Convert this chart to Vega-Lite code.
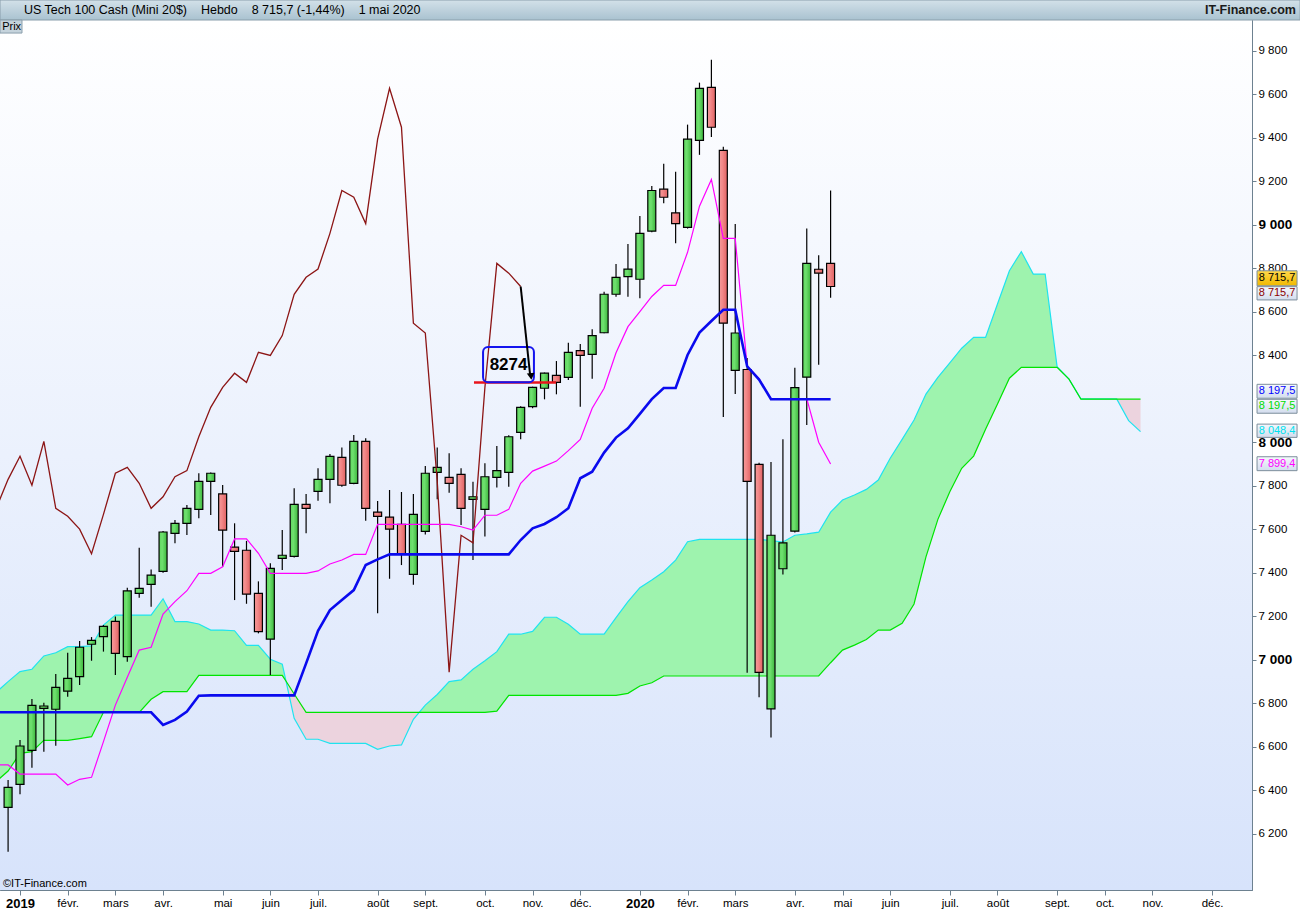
{
  "$schema": "https://vega.github.io/schema/vega-lite/v6.json",
  "width": 1252,
  "height": 870,
  "autosize": {"type": "none"},
  "padding": {"left": 0, "top": 20, "right": 48, "bottom": 20},
  "background": "#ffffff",
  "config": {
    "font": "Liberation Sans",
    "view": {"stroke": "#6d8190", "strokeWidth": 1},
    "axis": {"grid": false}
  },
  "datasets": {
    "k": [
      {"d": "2018-12-31", "o": 6321, "h": 6447, "l": 6117, "c": 6413},
      {"d": "2019-01-07", "o": 6427, "h": 6631, "l": 6381, "c": 6603},
      {"d": "2019-01-14", "o": 6583, "h": 6819, "l": 6503, "c": 6790},
      {"d": "2019-01-21", "o": 6776, "h": 6802, "l": 6577, "c": 6787},
      {"d": "2019-01-28", "o": 6772, "h": 6934, "l": 6604, "c": 6873},
      {"d": "2019-02-04", "o": 6855, "h": 7032, "l": 6830, "c": 6914},
      {"d": "2019-02-11", "o": 6922, "h": 7086, "l": 6884, "c": 7057},
      {"d": "2019-02-18", "o": 7071, "h": 7104, "l": 6995, "c": 7089},
      {"d": "2019-02-25", "o": 7106, "h": 7159, "l": 7037, "c": 7153},
      {"d": "2019-03-04", "o": 7176, "h": 7198, "l": 6929, "c": 7029},
      {"d": "2019-03-11", "o": 7014, "h": 7331, "l": 6991, "c": 7316},
      {"d": "2019-03-18", "o": 7305, "h": 7515, "l": 7285, "c": 7328},
      {"d": "2019-03-25", "o": 7346, "h": 7415, "l": 7243, "c": 7389},
      {"d": "2019-04-01", "o": 7406, "h": 7592, "l": 7400, "c": 7587},
      {"d": "2019-04-08", "o": 7581, "h": 7642, "l": 7535, "c": 7627},
      {"d": "2019-04-15", "o": 7627, "h": 7711, "l": 7573, "c": 7696},
      {"d": "2019-04-22", "o": 7691, "h": 7857, "l": 7650, "c": 7820},
      {"d": "2019-04-29", "o": 7820, "h": 7860, "l": 7665, "c": 7857},
      {"d": "2019-05-06", "o": 7762, "h": 7803, "l": 7427, "c": 7596},
      {"d": "2019-05-13", "o": 7517, "h": 7627, "l": 7274, "c": 7498},
      {"d": "2019-05-20", "o": 7503, "h": 7546, "l": 7257, "c": 7301},
      {"d": "2019-05-27", "o": 7305, "h": 7360, "l": 7121, "c": 7129},
      {"d": "2019-06-03", "o": 7094, "h": 7443, "l": 6929, "c": 7420},
      {"d": "2019-06-10", "o": 7466, "h": 7596, "l": 7412, "c": 7480},
      {"d": "2019-06-17", "o": 7475, "h": 7788, "l": 7470, "c": 7714},
      {"d": "2019-06-24", "o": 7714, "h": 7762, "l": 7581, "c": 7696},
      {"d": "2019-07-01", "o": 7774, "h": 7880, "l": 7731, "c": 7829},
      {"d": "2019-07-08", "o": 7829, "h": 7946, "l": 7719, "c": 7935},
      {"d": "2019-07-15", "o": 7930, "h": 7976, "l": 7795, "c": 7802},
      {"d": "2019-07-22", "o": 7811, "h": 8033, "l": 7806, "c": 8004},
      {"d": "2019-07-29", "o": 8004, "h": 8018, "l": 7639, "c": 7696},
      {"d": "2019-08-05", "o": 7678, "h": 7730, "l": 7213, "c": 7659},
      {"d": "2019-08-12", "o": 7655, "h": 7780, "l": 7372, "c": 7600},
      {"d": "2019-08-19", "o": 7622, "h": 7771, "l": 7435, "c": 7487},
      {"d": "2019-08-26", "o": 7392, "h": 7762, "l": 7345, "c": 7668},
      {"d": "2019-09-02", "o": 7590, "h": 7890, "l": 7575, "c": 7857},
      {"d": "2019-09-09", "o": 7861, "h": 7976, "l": 7737, "c": 7884},
      {"d": "2019-09-16", "o": 7838, "h": 7949, "l": 7768, "c": 7811},
      {"d": "2019-09-23", "o": 7852, "h": 7880, "l": 7619, "c": 7696},
      {"d": "2019-09-30", "o": 7737, "h": 7818, "l": 7458, "c": 7749},
      {"d": "2019-10-07", "o": 7691, "h": 7903, "l": 7566, "c": 7841},
      {"d": "2019-10-14", "o": 7838, "h": 7982, "l": 7792, "c": 7869},
      {"d": "2019-10-21", "o": 7861, "h": 8032, "l": 7795, "c": 8025},
      {"d": "2019-10-28", "o": 8045, "h": 8165, "l": 8013, "c": 8160},
      {"d": "2019-11-04", "o": 8163, "h": 8255, "l": 8156, "c": 8252},
      {"d": "2019-11-11", "o": 8248, "h": 8320, "l": 8197, "c": 8317},
      {"d": "2019-11-18", "o": 8307, "h": 8373, "l": 8220, "c": 8275},
      {"d": "2019-11-25", "o": 8298, "h": 8457, "l": 8286, "c": 8413},
      {"d": "2019-12-02", "o": 8421, "h": 8451, "l": 8163, "c": 8399},
      {"d": "2019-12-09", "o": 8404, "h": 8519, "l": 8292, "c": 8490},
      {"d": "2019-12-16", "o": 8503, "h": 8692, "l": 8501, "c": 8680},
      {"d": "2019-12-23", "o": 8680, "h": 8819, "l": 8669, "c": 8758},
      {"d": "2019-12-30", "o": 8761, "h": 8911, "l": 8669, "c": 8796},
      {"d": "2020-01-06", "o": 8749, "h": 9040, "l": 8662, "c": 8960},
      {"d": "2020-01-13", "o": 8970, "h": 9178, "l": 8965, "c": 9157},
      {"d": "2020-01-20", "o": 9163, "h": 9280, "l": 9099, "c": 9126},
      {"d": "2020-01-27", "o": 9054, "h": 9243, "l": 8914, "c": 9005},
      {"d": "2020-02-03", "o": 8988, "h": 9460, "l": 8982, "c": 9393},
      {"d": "2020-02-10", "o": 9388, "h": 9653, "l": 9321, "c": 9627},
      {"d": "2020-02-17", "o": 9631, "h": 9758, "l": 9403, "c": 9448},
      {"d": "2020-02-24", "o": 9342, "h": 9358, "l": 8116, "c": 8547},
      {"d": "2020-03-02", "o": 8330, "h": 9003, "l": 8222, "c": 8502},
      {"d": "2020-03-09", "o": 8334, "h": 8387, "l": 6940, "c": 7820},
      {"d": "2020-03-16", "o": 7898, "h": 7905, "l": 6827, "c": 6942},
      {"d": "2020-03-23", "o": 6774, "h": 7909, "l": 6642, "c": 7572},
      {"d": "2020-03-30", "o": 7418, "h": 8013, "l": 7392, "c": 7537},
      {"d": "2020-04-06", "o": 7591, "h": 8342, "l": 7585, "c": 8251},
      {"d": "2020-04-13", "o": 8299, "h": 8982, "l": 8079, "c": 8822},
      {"d": "2020-04-20", "o": 8795, "h": 8859, "l": 8356, "c": 8777},
      {"d": "2020-04-27", "o": 8822, "h": 9157, "l": 8664, "c": 8715.7}
    ],
    "ich": [
      {"d": "2018-12-24", "t": 6516, "k": 6758, "ch": 7696},
      {"d": "2018-12-31", "t": 6516, "k": 6758, "ch": 7829},
      {"d": "2019-01-07", "t": 6474, "k": 6758, "ch": 7935},
      {"d": "2019-01-14", "t": 6474, "k": 6758, "ch": 7802},
      {"d": "2019-01-21", "t": 6474, "k": 6758, "ch": 8004},
      {"d": "2019-01-28", "t": 6474, "k": 6758, "ch": 7696},
      {"d": "2019-02-04", "t": 6424, "k": 6758, "ch": 7659},
      {"d": "2019-02-11", "t": 6450, "k": 6758, "ch": 7600},
      {"d": "2019-02-18", "t": 6459, "k": 6758, "ch": 7487},
      {"d": "2019-02-25", "t": 6623, "k": 6758, "ch": 7668},
      {"d": "2019-03-04", "t": 6791, "k": 6758, "ch": 7857},
      {"d": "2019-03-11", "t": 6919, "k": 6758, "ch": 7884},
      {"d": "2019-03-18", "t": 7044, "k": 6758, "ch": 7811},
      {"d": "2019-03-25", "t": 7057, "k": 6758, "ch": 7696},
      {"d": "2019-04-01", "t": 7210, "k": 6700, "ch": 7749},
      {"d": "2019-04-08", "t": 7267, "k": 6723, "ch": 7841},
      {"d": "2019-04-15", "t": 7317, "k": 6761, "ch": 7869},
      {"d": "2019-04-22", "t": 7397, "k": 6834, "ch": 8025},
      {"d": "2019-04-29", "t": 7397, "k": 6836, "ch": 8160},
      {"d": "2019-05-06", "t": 7427, "k": 6836, "ch": 8252},
      {"d": "2019-05-13", "t": 7555, "k": 6836, "ch": 8317},
      {"d": "2019-05-20", "t": 7555, "k": 6836, "ch": 8275},
      {"d": "2019-05-27", "t": 7489, "k": 6836, "ch": 8413},
      {"d": "2019-06-03", "t": 7397, "k": 6836, "ch": 8399},
      {"d": "2019-06-10", "t": 7397, "k": 6836, "ch": 8490},
      {"d": "2019-06-17", "t": 7397, "k": 6836, "ch": 8680},
      {"d": "2019-06-24", "t": 7397, "k": 6983, "ch": 8758},
      {"d": "2019-07-01", "t": 7408, "k": 7133, "ch": 8796},
      {"d": "2019-07-08", "t": 7440, "k": 7228, "ch": 8960},
      {"d": "2019-07-15", "t": 7458, "k": 7274, "ch": 9157},
      {"d": "2019-07-22", "t": 7484, "k": 7320, "ch": 9126},
      {"d": "2019-07-29", "t": 7484, "k": 7435, "ch": 9005},
      {"d": "2019-08-05", "t": 7622, "k": 7461, "ch": 9393},
      {"d": "2019-08-12", "t": 7622, "k": 7484, "ch": 9627},
      {"d": "2019-08-19", "t": 7622, "k": 7484, "ch": 9448},
      {"d": "2019-08-26", "t": 7622, "k": 7484, "ch": 8547},
      {"d": "2019-09-02", "t": 7622, "k": 7484, "ch": 8502},
      {"d": "2019-09-09", "t": 7622, "k": 7484, "ch": 7820},
      {"d": "2019-09-16", "t": 7622, "k": 7484, "ch": 6942},
      {"d": "2019-09-23", "t": 7611, "k": 7484, "ch": 7572},
      {"d": "2019-09-30", "t": 7596, "k": 7484, "ch": 7537},
      {"d": "2019-10-07", "t": 7664, "k": 7484, "ch": 8251},
      {"d": "2019-10-14", "t": 7664, "k": 7484, "ch": 8822},
      {"d": "2019-10-21", "t": 7691, "k": 7484, "ch": 8777},
      {"d": "2019-10-28", "t": 7811, "k": 7550, "ch": 8715.7},
      {"d": "2019-11-04", "t": 7867, "k": 7604},
      {"d": "2019-11-11", "t": 7890, "k": 7624},
      {"d": "2019-11-18", "t": 7913, "k": 7655},
      {"d": "2019-11-25", "t": 7961, "k": 7696},
      {"d": "2019-12-02", "t": 8013, "k": 7834},
      {"d": "2019-12-09", "t": 8156, "k": 7864},
      {"d": "2019-12-16", "t": 8248, "k": 7952},
      {"d": "2019-12-23", "t": 8411, "k": 8021},
      {"d": "2019-12-30", "t": 8531, "k": 8064},
      {"d": "2020-01-06", "t": 8600, "k": 8130},
      {"d": "2020-01-13", "t": 8670, "k": 8198},
      {"d": "2020-01-20", "t": 8721, "k": 8249},
      {"d": "2020-01-27", "t": 8721, "k": 8249},
      {"d": "2020-02-03", "t": 8873, "k": 8401},
      {"d": "2020-02-10", "t": 9085, "k": 8504},
      {"d": "2020-02-17", "t": 9208, "k": 8557},
      {"d": "2020-02-24", "t": 8937, "k": 8609},
      {"d": "2020-03-02", "t": 8937, "k": 8609},
      {"d": "2020-03-09", "t": 8349, "k": 8349},
      {"d": "2020-03-16", "t": 8292, "k": 8288},
      {"d": "2020-03-23", "t": 8200, "k": 8197.5},
      {"d": "2020-03-30", "t": 8200, "k": 8197.5},
      {"d": "2020-04-06", "t": 8200, "k": 8197.5},
      {"d": "2020-04-13", "t": 8200, "k": 8197.5},
      {"d": "2020-04-20", "t": 8000, "k": 8197.5},
      {"d": "2020-04-27", "t": 7899.4, "k": 8197.5}
    ],
    "cl": [
      {"d": "2018-12-24", "a": 6850, "b": 6440, "seg": 1, "trend": "haussier"},
      {"d": "2018-12-31", "a": 6899, "b": 6488, "seg": 1, "trend": "haussier"},
      {"d": "2019-01-07", "a": 6945, "b": 6569, "seg": 1, "trend": "haussier"},
      {"d": "2019-01-14", "a": 6956, "b": 6577, "seg": 1, "trend": "haussier"},
      {"d": "2019-01-21", "a": 7017, "b": 6629, "seg": 1, "trend": "haussier"},
      {"d": "2019-01-28", "a": 7032, "b": 6629, "seg": 1, "trend": "haussier"},
      {"d": "2019-02-04", "a": 7060, "b": 6629, "seg": 1, "trend": "haussier"},
      {"d": "2019-02-11", "a": 7060, "b": 6637, "seg": 1, "trend": "haussier"},
      {"d": "2019-02-18", "a": 7063, "b": 6646, "seg": 1, "trend": "haussier"},
      {"d": "2019-02-25", "a": 7159, "b": 6758, "seg": 1, "trend": "haussier"},
      {"d": "2019-03-04", "a": 7205, "b": 6758, "seg": 1, "trend": "haussier"},
      {"d": "2019-03-11", "a": 7205, "b": 6758, "seg": 1, "trend": "haussier"},
      {"d": "2019-03-18", "a": 7205, "b": 6758, "seg": 1, "trend": "haussier"},
      {"d": "2019-03-25", "a": 7205, "b": 6818, "seg": 1, "trend": "haussier"},
      {"d": "2019-04-01", "a": 7280, "b": 6853, "seg": 1, "trend": "haussier"},
      {"d": "2019-04-08", "a": 7175, "b": 6853, "seg": 1, "trend": "haussier"},
      {"d": "2019-04-15", "a": 7175, "b": 6853, "seg": 1, "trend": "haussier"},
      {"d": "2019-04-22", "a": 7164, "b": 6928, "seg": 1, "trend": "haussier"},
      {"d": "2019-04-29", "a": 7136, "b": 6928, "seg": 1, "trend": "haussier"},
      {"d": "2019-05-06", "a": 7136, "b": 6928, "seg": 1, "trend": "haussier"},
      {"d": "2019-05-13", "a": 7133, "b": 6928, "seg": 1, "trend": "haussier"},
      {"d": "2019-05-20", "a": 7066, "b": 6928, "seg": 1, "trend": "haussier"},
      {"d": "2019-05-27", "a": 7066, "b": 6928, "seg": 1, "trend": "haussier"},
      {"d": "2019-06-03", "a": 7002, "b": 6928, "seg": 1, "trend": "haussier"},
      {"d": "2019-06-10", "a": 6979, "b": 6928, "seg": 1, "trend": "haussier"},
      {"d": "2019-06-12T04:00:00Z", "a": 6902, "b": 6902, "seg": 1, "trend": "haussier"},
      {"d": "2019-06-12T04:00:00Z", "a": 6902, "b": 6902, "seg": 2, "trend": "baissier"},
      {"d": "2019-06-17", "a": 6730, "b": 6842, "seg": 2, "trend": "baissier"},
      {"d": "2019-06-24", "a": 6634, "b": 6758, "seg": 2, "trend": "baissier"},
      {"d": "2019-07-01", "a": 6634, "b": 6758, "seg": 2, "trend": "baissier"},
      {"d": "2019-07-08", "a": 6615, "b": 6758, "seg": 2, "trend": "baissier"},
      {"d": "2019-07-15", "a": 6615, "b": 6758, "seg": 2, "trend": "baissier"},
      {"d": "2019-07-22", "a": 6615, "b": 6758, "seg": 2, "trend": "baissier"},
      {"d": "2019-07-29", "a": 6615, "b": 6758, "seg": 2, "trend": "baissier"},
      {"d": "2019-08-05", "a": 6588, "b": 6758, "seg": 2, "trend": "baissier"},
      {"d": "2019-08-12", "a": 6603, "b": 6758, "seg": 2, "trend": "baissier"},
      {"d": "2019-08-19", "a": 6608, "b": 6758, "seg": 2, "trend": "baissier"},
      {"d": "2019-08-26", "a": 6726, "b": 6758, "seg": 2, "trend": "baissier"},
      {"d": "2019-08-29T10:00:00Z", "a": 6758, "b": 6758, "seg": 2, "trend": "baissier"},
      {"d": "2019-08-29T10:00:00Z", "a": 6758, "b": 6758, "seg": 3, "trend": "haussier"},
      {"d": "2019-09-02", "a": 6791, "b": 6758, "seg": 3, "trend": "haussier"},
      {"d": "2019-09-09", "a": 6840, "b": 6758, "seg": 3, "trend": "haussier"},
      {"d": "2019-09-16", "a": 6899, "b": 6758, "seg": 3, "trend": "haussier"},
      {"d": "2019-09-23", "a": 6907, "b": 6758, "seg": 3, "trend": "haussier"},
      {"d": "2019-09-30", "a": 6956, "b": 6758, "seg": 3, "trend": "haussier"},
      {"d": "2019-10-07", "a": 6995, "b": 6758, "seg": 3, "trend": "haussier"},
      {"d": "2019-10-14", "a": 7037, "b": 6763, "seg": 3, "trend": "haussier"},
      {"d": "2019-10-21", "a": 7117, "b": 6836, "seg": 3, "trend": "haussier"},
      {"d": "2019-10-28", "a": 7117, "b": 6836, "seg": 3, "trend": "haussier"},
      {"d": "2019-11-04", "a": 7130, "b": 6836, "seg": 3, "trend": "haussier"},
      {"d": "2019-11-11", "a": 7195, "b": 6836, "seg": 3, "trend": "haussier"},
      {"d": "2019-11-18", "a": 7195, "b": 6836, "seg": 3, "trend": "haussier"},
      {"d": "2019-11-25", "a": 7163, "b": 6836, "seg": 3, "trend": "haussier"},
      {"d": "2019-12-02", "a": 7117, "b": 6836, "seg": 3, "trend": "haussier"},
      {"d": "2019-12-09", "a": 7117, "b": 6836, "seg": 3, "trend": "haussier"},
      {"d": "2019-12-16", "a": 7117, "b": 6836, "seg": 3, "trend": "haussier"},
      {"d": "2019-12-23", "a": 7193, "b": 6836, "seg": 3, "trend": "haussier"},
      {"d": "2019-12-30", "a": 7267, "b": 6845, "seg": 3, "trend": "haussier"},
      {"d": "2020-01-06", "a": 7331, "b": 6879, "seg": 3, "trend": "haussier"},
      {"d": "2020-01-13", "a": 7366, "b": 6894, "seg": 3, "trend": "haussier"},
      {"d": "2020-01-20", "a": 7404, "b": 6925, "seg": 3, "trend": "haussier"},
      {"d": "2020-01-27", "a": 7458, "b": 6925, "seg": 3, "trend": "haussier"},
      {"d": "2020-02-03", "a": 7542, "b": 6925, "seg": 3, "trend": "haussier"},
      {"d": "2020-02-10", "a": 7553, "b": 6925, "seg": 3, "trend": "haussier"},
      {"d": "2020-02-17", "a": 7553, "b": 6925, "seg": 3, "trend": "haussier"},
      {"d": "2020-02-24", "a": 7553, "b": 6925, "seg": 3, "trend": "haussier"},
      {"d": "2020-03-02", "a": 7553, "b": 6925, "seg": 3, "trend": "haussier"},
      {"d": "2020-03-09", "a": 7553, "b": 6925, "seg": 3, "trend": "haussier"},
      {"d": "2020-03-16", "a": 7553, "b": 6925, "seg": 3, "trend": "haussier"},
      {"d": "2020-03-23", "a": 7547, "b": 6925, "seg": 3, "trend": "haussier"},
      {"d": "2020-03-30", "a": 7541, "b": 6925, "seg": 3, "trend": "haussier"},
      {"d": "2020-04-06", "a": 7572, "b": 6925, "seg": 3, "trend": "haussier"},
      {"d": "2020-04-13", "a": 7578, "b": 6925, "seg": 3, "trend": "haussier"},
      {"d": "2020-04-20", "a": 7586, "b": 6925, "seg": 3, "trend": "haussier"},
      {"d": "2020-04-27", "a": 7678, "b": 6986, "seg": 3, "trend": "haussier"},
      {"d": "2020-05-04", "a": 7734, "b": 7044, "seg": 3, "trend": "haussier"},
      {"d": "2020-05-11", "a": 7757, "b": 7067, "seg": 3, "trend": "haussier"},
      {"d": "2020-05-18", "a": 7783, "b": 7093, "seg": 3, "trend": "haussier"},
      {"d": "2020-05-25", "a": 7826, "b": 7136, "seg": 3, "trend": "haussier"},
      {"d": "2020-06-01", "a": 7926, "b": 7136, "seg": 3, "trend": "haussier"},
      {"d": "2020-06-08", "a": 8013, "b": 7167, "seg": 3, "trend": "haussier"},
      {"d": "2020-06-15", "a": 8102, "b": 7256, "seg": 3, "trend": "haussier"},
      {"d": "2020-06-22", "a": 8221, "b": 7473, "seg": 3, "trend": "haussier"},
      {"d": "2020-06-29", "a": 8298, "b": 7645, "seg": 3, "trend": "haussier"},
      {"d": "2020-07-06", "a": 8365, "b": 7772, "seg": 3, "trend": "haussier"},
      {"d": "2020-07-13", "a": 8432, "b": 7880, "seg": 3, "trend": "haussier"},
      {"d": "2020-07-20", "a": 8482, "b": 7936, "seg": 3, "trend": "haussier"},
      {"d": "2020-07-27", "a": 8482, "b": 8059, "seg": 3, "trend": "haussier"},
      {"d": "2020-08-03", "a": 8635, "b": 8176, "seg": 3, "trend": "haussier"},
      {"d": "2020-08-10", "a": 8788, "b": 8294, "seg": 3, "trend": "haussier"},
      {"d": "2020-08-17", "a": 8876, "b": 8344, "seg": 3, "trend": "haussier"},
      {"d": "2020-08-24", "a": 8773, "b": 8344, "seg": 3, "trend": "haussier"},
      {"d": "2020-08-31", "a": 8773, "b": 8344, "seg": 3, "trend": "haussier"},
      {"d": "2020-09-07", "a": 8347, "b": 8344, "seg": 3, "trend": "haussier"},
      {"d": "2020-09-14", "a": 8290, "b": 8290, "seg": 3, "trend": "haussier"},
      {"d": "2020-09-21", "a": 8199, "b": 8197.5, "seg": 3, "trend": "haussier"},
      {"d": "2020-09-28", "a": 8199, "b": 8197.5, "seg": 3, "trend": "haussier"},
      {"d": "2020-10-05", "a": 8199, "b": 8197.5, "seg": 3, "trend": "haussier"},
      {"d": "2020-10-12", "a": 8199, "b": 8197.5, "seg": 3, "trend": "haussier"},
      {"d": "2020-10-12", "a": 8199, "b": 8197.5, "seg": 4, "trend": "baissier"},
      {"d": "2020-10-19", "a": 8099, "b": 8197.5, "seg": 4, "trend": "baissier"},
      {"d": "2020-10-26", "a": 8048.4, "b": 8197.5, "seg": 4, "trend": "baissier"}
    ]
  },
  "encoding": {
    "x": {
      "field": "d",
      "type": "temporal",
      "title": null,
      "scale": {
        "type": "utc",
        "nice": false,
        "padding": 0,
        "domain": [
          {"year": 2018, "month": 12, "date": 26, "hours": 6, "utc": true},
          {"year": 2020, "month": 12, "date": 30, "hours": 11, "utc": true}
        ]
      },
      "axis": {
        "values": [
          {"year": 2019, "month": 1, "date": 7, "utc": true},
          {"year": 2019, "month": 2, "date": 4, "utc": true},
          {"year": 2019, "month": 3, "date": 4, "utc": true},
          {"year": 2019, "month": 4, "date": 1, "utc": true},
          {"year": 2019, "month": 5, "date": 6, "utc": true},
          {"year": 2019, "month": 6, "date": 3, "utc": true},
          {"year": 2019, "month": 7, "date": 1, "utc": true},
          {"year": 2019, "month": 8, "date": 5, "utc": true},
          {"year": 2019, "month": 9, "date": 2, "utc": true},
          {"year": 2019, "month": 10, "date": 7, "utc": true},
          {"year": 2019, "month": 11, "date": 4, "utc": true},
          {"year": 2019, "month": 12, "date": 2, "utc": true},
          {"year": 2020, "month": 1, "date": 6, "utc": true},
          {"year": 2020, "month": 2, "date": 3, "utc": true},
          {"year": 2020, "month": 3, "date": 2, "utc": true},
          {"year": 2020, "month": 4, "date": 6, "utc": true},
          {"year": 2020, "month": 5, "date": 4, "utc": true},
          {"year": 2020, "month": 6, "date": 1, "utc": true},
          {"year": 2020, "month": 7, "date": 6, "utc": true},
          {"year": 2020, "month": 8, "date": 3, "utc": true},
          {"year": 2020, "month": 9, "date": 7, "utc": true},
          {"year": 2020, "month": 10, "date": 5, "utc": true},
          {"year": 2020, "month": 11, "date": 2, "utc": true},
          {"year": 2020, "month": 12, "date": 7, "utc": true}
        ],
        "labelExpr": "utcmonth(datum.value) == 0 ? '' + utcyear(datum.value) : ['janv.', 'févr.', 'mars', 'avr.', 'mai', 'juin', 'juil.', 'août', 'sept.', 'oct.', 'nov.', 'déc.'][utcmonth(datum.value)]",
        "labelFontWeight": {"condition": {"test": "utcmonth(datum.value) == 0", "value": "bold"}, "value": "normal"},
        "labelFontSize": {"condition": {"test": "utcmonth(datum.value) == 0", "value": 13}, "value": 11.5},
        "labelColor": "#000000",
        "labelPadding": 2,
        "labelOverlap": false,
        "labelFlush": false,
        "labelBound": false,
        "tickSize": 5,
        "tickColor": "#6d8190",
        "domainColor": "#6d8190"
      }
    }
  },
  "layer": [
    {
      "data": {"values": [{"d": "2018-12-26T06:00:00Z", "d2": "2020-12-30T11:00:00Z", "v": 9941, "v2": 5941}]},
      "mark": {
        "type": "rect",
        "fill": {
          "gradient": "linear", "x1": 0, "y1": 0, "x2": 0, "y2": 1,
          "stops": [{"offset": 0, "color": "#ffffff"}, {"offset": 1, "color": "#d7e3fb"}]
        }
      },
      "encoding": {
        "x2": {"field": "d2"},
        "y": {
          "field": "v",
          "type": "quantitative",
          "title": null,
          "scale": {"domain": [5941, 9941], "nice": false, "zero": false},
          "axis": {
            "orient": "right",
            "values": [6200, 6400, 6600, 6800, 7000, 7200, 7400, 7600, 7800, 8000, 8400, 8600, 8800, 9000, 9200, 9400, 9600, 9800],
            "labelExpr": "replace(format(datum.value, ','), ',', ' ')",
            "labelFontWeight": {"condition": {"test": "datum.value % 1000 == 0", "value": "bold"}, "value": "normal"},
            "labelFontSize": {"condition": {"test": "datum.value % 1000 == 0", "value": 13.5}, "value": 11.5},
            "labelColor": "#000000",
            "labelPadding": 2,
            "labelOverlap": false,
            "labelBound": false,
            "labelFlush": false,
            "tickSize": 4,
            "tickColor": "#6d8190",
            "domainColor": "#6d8190"
          }
        },
        "y2": {"field": "v2"}
      }
    },
    {
      "data": {"name": "cl"},
      "mark": {"type": "area", "clip": true, "opacity": 1, "interpolate": "linear"},
      "encoding": {
        "y": {"field": "a", "type": "quantitative", "title": null, "stack": null},
        "y2": {"field": "b"},
        "color": {
          "field": "trend",
          "type": "nominal",
          "legend": null,
          "scale": {"domain": ["haussier", "baissier"], "range": ["#9ef3ae", "#ecd3de"]}
        },
        "detail": {"field": "seg", "type": "nominal"}
      }
    },
    {
      "data": {"name": "cl"},
      "mark": {"type": "line", "clip": true, "color": "#1fe3ef", "strokeWidth": 1.2},
      "encoding": {"y": {"field": "a", "type": "quantitative", "title": null}}
    },
    {
      "data": {"name": "cl"},
      "mark": {"type": "line", "clip": true, "color": "#00e400", "strokeWidth": 1.2},
      "encoding": {"y": {"field": "b", "type": "quantitative", "title": null}}
    },
    {
      "data": {"name": "k"},
      "mark": {"type": "rule", "color": "#000000", "strokeWidth": 1.2},
      "encoding": {
        "y": {"field": "l", "type": "quantitative", "title": null},
        "y2": {"field": "h"}
      }
    },
    {
      "data": {"name": "k"},
      "transform": [{"filter": "datum.c >= datum.o"}],
      "mark": {
        "type": "bar",
        "size": 8,
        "stroke": "#000000",
        "strokeWidth": 1.2,
        "fill": {
          "gradient": "linear", "x1": 0, "y1": 0, "x2": 1, "y2": 0,
          "stops": [{"offset": 0, "color": "#5fd85f"}, {"offset": 0.4, "color": "#6fe06f"}, {"offset": 1, "color": "#3cb63c"}]
        }
      },
      "encoding": {
        "y": {"field": "o", "type": "quantitative", "title": null},
        "y2": {"field": "c"}
      }
    },
    {
      "data": {"name": "k"},
      "transform": [{"filter": "datum.c < datum.o"}],
      "mark": {
        "type": "bar",
        "size": 8,
        "stroke": "#000000",
        "strokeWidth": 1.2,
        "fill": {
          "gradient": "linear", "x1": 0, "y1": 0, "x2": 1, "y2": 0,
          "stops": [{"offset": 0, "color": "#f49a9a"}, {"offset": 0.4, "color": "#f28888"}, {"offset": 1, "color": "#e06262"}]
        }
      },
      "encoding": {
        "y": {"field": "o", "type": "quantitative", "title": null},
        "y2": {"field": "c"}
      }
    },
    {
      "data": {"name": "ich"},
      "mark": {"type": "line", "clip": true, "color": "#8c1515", "strokeWidth": 1.3},
      "encoding": {"y": {"field": "ch", "type": "quantitative", "title": null}}
    },
    {
      "data": {"name": "ich"},
      "mark": {"type": "line", "clip": true, "color": "#ff00ff", "strokeWidth": 1.2},
      "encoding": {"y": {"field": "t", "type": "quantitative", "title": null}}
    },
    {
      "data": {"name": "ich"},
      "mark": {"type": "line", "clip": true, "color": "#0a0aee", "strokeWidth": 2.6},
      "encoding": {"y": {"field": "k", "type": "quantitative", "title": null}}
    },
    {
      "data": {"values": [{"d": "2019-09-30T14:00:00Z", "d2": "2019-11-17T18:00:00Z", "v": 8274}]},
      "mark": {"type": "rule", "color": "#e8141c", "strokeWidth": 2.5},
      "encoding": {
        "x2": {"field": "d2"},
        "y": {"field": "v", "type": "quantitative", "title": null}
      }
    },
    {
      "data": {"values": [{"d": "2019-10-05T22:00:00Z", "d2": "2019-11-04T19:00:00Z", "v": 8438, "v2": 8276}]},
      "mark": {"type": "rect", "fill": "transparent", "stroke": "#1414ee", "strokeWidth": 2, "cornerRadius": 5},
      "encoding": {
        "x2": {"field": "d2"},
        "y": {"field": "v", "type": "quantitative", "title": null},
        "y2": {"field": "v2"}
      }
    },
    {
      "data": {"values": [{"d": "2019-10-20T21:00:00Z", "v": 8355, "txt": "8274"}]},
      "mark": {"type": "text", "fontSize": 17, "fontWeight": "bold", "color": "#000000", "align": "center", "baseline": "middle"},
      "encoding": {
        "y": {"field": "v", "type": "quantitative", "title": null},
        "text": {"field": "txt"}
      }
    },
    {
      "data": {"values": [{"d": "2019-10-28", "d2": "2019-11-02T12:00:00Z", "v": 8715.7, "v2": 8313}]},
      "mark": {"type": "rule", "color": "#000000", "strokeWidth": 2},
      "encoding": {
        "x2": {"field": "d2"},
        "y": {"field": "v", "type": "quantitative", "title": null},
        "y2": {"field": "v2"}
      }
    },
    {
      "data": {"values": [{"d": "2019-11-03T02:00:00Z", "v": 8302}]},
      "mark": {"type": "point", "shape": "triangle-down", "filled": true, "color": "#000000", "size": 60, "angle": -6, "opacity": 1},
      "encoding": {
        "y": {"field": "v", "type": "quantitative", "title": null}
      }
    },
    {
      "data": {"values": [{"d": "2021-01-02T10:00:00Z", "d2": "2021-01-25T22:00:00Z", "v": 8788, "v2": 8719}]},
      "mark": {
        "type": "rect", "stroke": "#7d8f9c", "strokeWidth": 1,
        "fill": {"gradient": "linear", "x1": 0, "y1": 0, "x2": 0, "y2": 1, "stops": [{"offset": 0, "color": "#ffd84a"}, {"offset": 1, "color": "#f0b800"}]}
      },
      "encoding": {
        "x2": {"field": "d2"},
        "y": {"field": "v", "type": "quantitative", "title": null},
        "y2": {"field": "v2"}
      }
    },
    {
      "data": {"values": [
        {"d": "2021-01-02T10:00:00Z", "d2": "2021-01-25T22:00:00Z", "v": 8715, "v2": 8654},
        {"d": "2021-01-02T10:00:00Z", "d2": "2021-01-25T22:00:00Z", "v": 8266, "v2": 8202},
        {"d": "2021-01-02T10:00:00Z", "d2": "2021-01-25T22:00:00Z", "v": 8197, "v2": 8133},
        {"d": "2021-01-02T10:00:00Z", "d2": "2021-01-25T22:00:00Z", "v": 8083, "v2": 8022},
        {"d": "2021-01-02T10:00:00Z", "d2": "2021-01-25T22:00:00Z", "v": 7933, "v2": 7869}
      ]},
      "mark": {
        "type": "rect", "stroke": "#7d8f9c", "strokeWidth": 1,
        "fill": {"gradient": "linear", "x1": 0, "y1": 0, "x2": 0, "y2": 1, "stops": [{"offset": 0, "color": "#f6f8fc"}, {"offset": 1, "color": "#d3ddee"}]}
      },
      "encoding": {
        "x2": {"field": "d2"},
        "y": {"field": "v", "type": "quantitative", "title": null},
        "y2": {"field": "v2"}
      }
    },
    {
      "data": {"values": [
        {"d": "2021-01-14T04:00:00Z", "v": 8753, "txt": "8 715,7", "serie": "cours"},
        {"d": "2021-01-14T04:00:00Z", "v": 8684, "txt": "8 715,7", "serie": "chikou"},
        {"d": "2021-01-14T04:00:00Z", "v": 8234, "txt": "8 197,5", "serie": "kijun"},
        {"d": "2021-01-14T04:00:00Z", "v": 8165, "txt": "8 197,5", "serie": "senkou B"},
        {"d": "2021-01-14T04:00:00Z", "v": 8052, "txt": "8 048,4", "serie": "senkou A"},
        {"d": "2021-01-14T04:00:00Z", "v": 7901, "txt": "7 899,4", "serie": "tenkan"}
      ]},
      "mark": {"type": "text", "fontSize": 11, "align": "center", "baseline": "middle"},
      "encoding": {
        "y": {"field": "v", "type": "quantitative", "title": null},
        "text": {"field": "txt"},
        "fill": {
          "field": "serie",
          "type": "nominal",
          "legend": null,
          "scale": {
            "domain": ["cours", "chikou", "kijun", "senkou B", "senkou A", "tenkan"],
            "range": ["#000000", "#8b0000", "#0000ff", "#00dd00", "#00e1ee", "#ff00ff"]
          }
        }
      }
    },
    {
      "data": {"values": [{"d": "2018-12-26T06:00:00Z", "d2": "2021-01-27T17:00:00Z", "v": 10033, "v2": 9941}]},
      "mark": {
        "type": "rect", "stroke": "#8a9eab", "strokeWidth": 1,
        "fill": {"gradient": "linear", "x1": 0, "y1": 0, "x2": 0, "y2": 1, "stops": [{"offset": 0, "color": "#d3e1e9"}, {"offset": 1, "color": "#a9c2d0"}]}
      },
      "encoding": {
        "x2": {"field": "d2"},
        "y": {"field": "v", "type": "quantitative", "title": null},
        "y2": {"field": "v2"}
      }
    },
    {
      "data": {"values": [{"d": "2019-01-09T08:00:00Z", "v": 9987, "txt": "US Tech 100 Cash (Mini 20$)\u00a0\u00a0\u00a0 Hebdo\u00a0\u00a0\u00a0 8 715,7 (-1,44%)\u00a0\u00a0\u00a0 1 mai 2020"}]},
      "mark": {"type": "text", "fontSize": 12.5, "color": "#000000", "align": "left", "baseline": "middle"},
      "encoding": {
        "y": {"field": "v", "type": "quantitative", "title": null},
        "text": {"field": "txt"}
      }
    },
    {
      "data": {"values": [{"d": "2021-01-25T07:00:00Z", "v": 9987, "txt": "IT-Finance.com"}]},
      "mark": {"type": "text", "fontSize": 12.5, "fontWeight": "bold", "color": "#1a1a1a", "align": "right", "baseline": "middle"},
      "encoding": {
        "y": {"field": "v", "type": "quantitative", "title": null},
        "text": {"field": "txt"}
      }
    },
    {
      "data": {"values": [{"d": "2018-12-26T06:00:00Z", "d2": "2019-01-08T04:00:00Z", "v": 9941, "v2": 9881}]},
      "mark": {"type": "rect", "fill": "#c5d3dc", "stroke": "#8a9eab", "strokeWidth": 1},
      "encoding": {
        "x2": {"field": "d2"},
        "y": {"field": "v", "type": "quantitative", "title": null},
        "y2": {"field": "v2"}
      }
    },
    {
      "data": {"values": [
        {"d": "2018-12-27T12:00:00Z", "v": 9911, "txt": "Prix"},
        {"d": "2018-12-28T00:00:00Z", "v": 5968, "txt": "©IT-Finance.com"}
      ]},
      "mark": {"type": "text", "fontSize": 11, "color": "#000000", "align": "left", "baseline": "middle"},
      "encoding": {
        "y": {"field": "v", "type": "quantitative", "title": null},
        "text": {"field": "txt"}
      }
    }
  ]
}
